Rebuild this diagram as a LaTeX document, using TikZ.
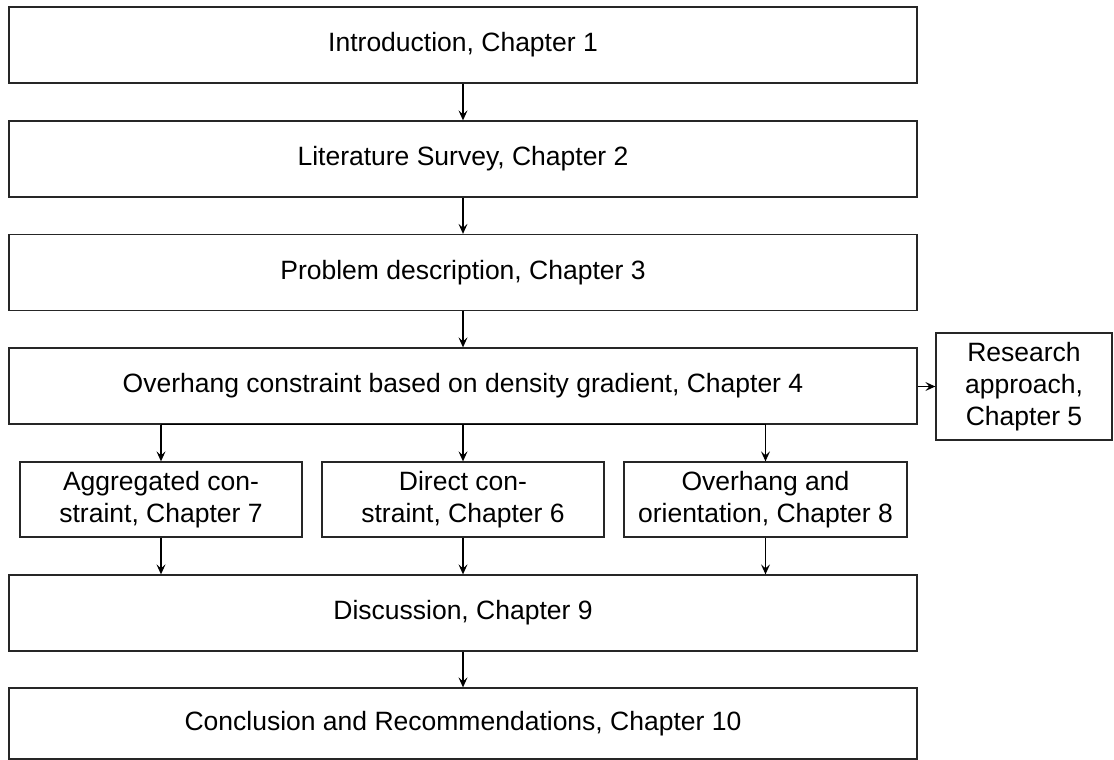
\documentclass[tikz,border=0pt]{standalone}
\usepackage{fontspec}
\setmainfont{Liberation Sans}
\usetikzlibrary{arrows.meta}
\begin{document}
\begin{tikzpicture}[x=1pt,y=-1pt,
  every node/.style={font=\fontsize{26.5}{32}\selectfont},
  box/.style={draw=black!85, line width=1.3pt, inner sep=0pt, align=center},
  wide/.style={box, minimum width=908pt, minimum height=76pt},
  small/.style={box, minimum width=282pt, minimum height=75pt},
  conn/.style={line width=1.3pt, -{Stealth[length=10pt,width=9pt,inset=4pt]}}
]
\useasboundingbox (0,0) rectangle (1114,760);
\node[wide] (b1) at (463,45) {Introduction, Chapter 1};
\node[wide] (b2) at (463,159) {Literature Survey, Chapter 2};
\node[wide] (b3) at (463,272.5) {Problem description, Chapter 3};
\node[wide] (b4) at (463,386) {Overhang constraint based on density gradient, Chapter 4};
\node[box, minimum width=176pt, minimum height=107pt] (rb) at (1024,386.5) {Research\\approach,\\Chapter 5};
\node[small] (sa) at (161,499.5) {Aggregated con-\\straint, Chapter 7};
\node[small] (sb) at (463,499.5) {Direct con-\\straint, Chapter 6};
\node[small, minimum width=283pt] (sc) at (765.5,499.5) {Overhang and\\orientation, Chapter 8};
\node[wide] (d) at (463,613) {Discussion, Chapter 9};
\node[wide, minimum height=71pt] (c) at (463,723.5) {Conclusion and Recommendations, Chapter 10};
\draw[conn] (b1) -- (b2);
\draw[conn] (b2) -- (b3);
\draw[conn] (b3) -- (b4);
\draw[conn] (b4.east |- rb.west) -- (rb.west);
\draw[line width=1.3pt] (b4.south -| sa.north) -- (b4.south -| sc.north);
\draw[conn] (b4.south -| sa.north) -- (sa.north);
\draw[conn] (b4.south -| sb.north) -- (sb.north);
\draw[conn] (b4.south -| sc.north) -- (sc.north);
\draw[conn] (sa.south) -- (d.north -| sa.south);
\draw[conn] (sb.south) -- (d.north -| sb.south);
\draw[conn] (sc.south) -- (d.north -| sc.south);
\draw[conn] (d) -- (c);
\end{tikzpicture}
\end{document}
